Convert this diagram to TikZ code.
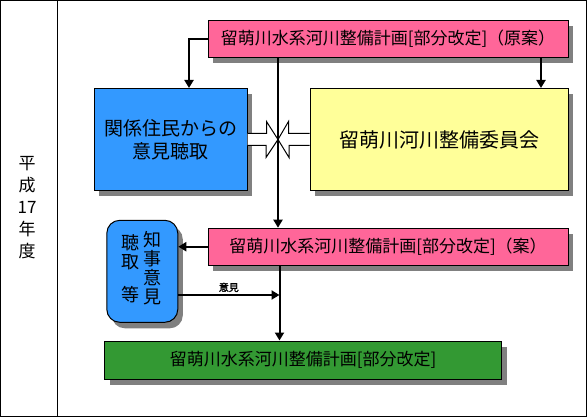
\documentclass[tikz,border=0pt]{standalone}
\usepackage{fontspec}
\newfontfamily\jp{Noto Sans CJK JP}
\newfontfamily\jpbold{Noto Sans CJK JP}[FakeBold=2]
\usepackage{tikz}
\usetikzlibrary{arrows.meta,shadows}

\definecolor{planpink}{HTML}{FF6699}
\definecolor{hearblue}{HTML}{3399FF}
\definecolor{comyellow}{HTML}{FFFF99}
\definecolor{finalgreen}{HTML}{339933}

\begin{document}
\begin{tikzpicture}[x=1pt, y=-1pt,
  every node/.style={inner sep=0pt, font=\jp},
  box/.style={rectangle, draw=black, line width=1pt,
              drop shadow={shadow xshift=5pt, shadow yshift=-6pt, fill=black!50, opacity=1}},
  plannode/.style={box, fill=planpink, minimum width=360pt, minimum height=37pt,
              font=\jp\fontsize{17}{20}\selectfont},
  coltext/.style={align=center, font=\jp\fontsize{18}{19}\selectfont},
  arr/.style={line width=2pt, -{Triangle[length=8pt,width=9pt]}},
  hollow/.style={draw, fill=white, line width=1pt, line join=miter}]

\useasboundingbox (0,0) rectangle (587,417);

% frame and year column
\draw [line width=1pt] (0.5,0.5) rectangle (586,416);
\draw [line width=1pt] (57,0.5) -- (57,416);
\node (year) [align=center, font=\jp\fontsize{17}{22}\selectfont] at (27,207.5) {平\\成\\17\\年\\度};

\node (plan0) [plannode] at (388,39) {留萌川水系河川整備計画[部分改定]（原案）};
\node (hearing) [box, fill=hearblue, minimum width=153pt, minimum height=102pt,
  align=center, font=\jp\fontsize{19}{23.3}\selectfont] at (170.5,139.5) {関係住民からの\\意見聴取};
\node (committee) [box, fill=comyellow, minimum width=258pt, minimum height=102pt,
  font=\jp\fontsize{20}{24}\selectfont] at (439,139.5) {留萌川河川整備委員会};
\node (plan1) [plannode] at (388,246.7) {留萌川水系河川整備計画[部分改定]（案）};
\node (governor) [box, fill=hearblue, rounded corners=13pt, minimum width=71pt,
  minimum height=102pt] at (142.3,271.3) {};
\node (govright) [coltext] at (152,268.4) {知\\事\\意\\見};
\node (govleft) [coltext] at (130,268.8) {聴\\取\\[13.5pt]等};
\node (final) [box, fill=finalgreen, minimum width=397pt, minimum height=38pt,
  font=\jp\fontsize{17}{20}\selectfont] at (303,360) {留萌川水系河川整備計画[部分改定]};

% the two hollow arrows meeting on the line
\coordinate (meet) at (278,139.5);
\draw [hollow] ([yshift=6pt]hearing.east) -- ++(19,0) -- ++(0,-12) -- (meet)
  -- ++(-12,18) -- ++(0,-12) -- ([yshift=-6pt]hearing.east);
\draw [hollow] ([yshift=6pt]committee.west) -- ++(-21,0) -- ++(0,-12) -- (meet)
  -- ++(11,18) -- ++(0,-12) -- ([yshift=-6pt]committee.west);

\draw [arr] (plan0.west) -| ([xshift=18.5pt]hearing.north);
\draw [arr] ([xshift=153pt]plan0.south) -- ([xshift=153pt]plan0.south |- committee.north);
\draw [arr] ([xshift=-110pt]plan0.south) -- ([xshift=-110pt]plan1.north);
\draw [arr] (plan1.west) -- (plan1.west -| governor.east);

\coordinate (join) at (279.5,295);
\draw [arr] (governor.east |- join) -- (join)
  node (opinion) [midway, above=2pt, font=\jpbold\fontsize{10}{10}\selectfont] {意見};
\draw [arr] ([xshift=-108.5pt]plan1.south) -- ([xshift=-108.5pt]plan1.south |- final.north);

\end{tikzpicture}
\end{document}
